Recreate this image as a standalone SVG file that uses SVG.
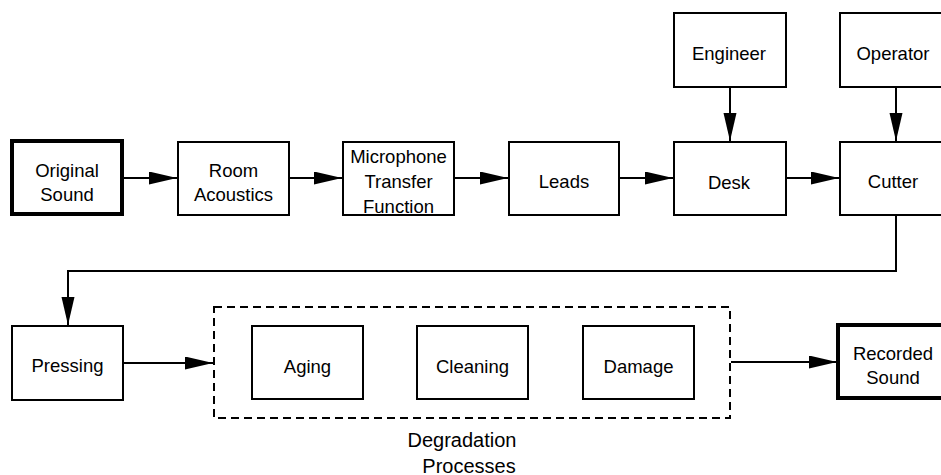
<svg xmlns="http://www.w3.org/2000/svg" width="941" height="475" viewBox="0 0 941 475">
<style>
.box{fill:#fff;stroke:#000;stroke-width:2}
.thick{fill:#fff;stroke:#000;stroke-width:4}
.dash{fill:none;stroke:#000;stroke-width:2;stroke-dasharray:8 5}
.t{font-family:"Liberation Sans",Arial,sans-serif;font-size:18.5px;text-anchor:middle;fill:#000}
.lbl{font-family:"Liberation Sans",Arial,sans-serif;font-size:20px;text-anchor:middle;fill:#000}
.c{fill:none;stroke:#000;stroke-width:2;marker-end:url(#ah)}
</style>
<defs>
<marker id="ah" markerUnits="userSpaceOnUse" markerWidth="28" markerHeight="14" refX="28" refY="6.5" orient="auto">
<path d="M0,0 L28,6.5 L0,13 z" fill="#000"/>
</marker>
</defs>
<rect width="941" height="475" fill="#fff"/>
<g id="connectors">
<path class="c" d="M123,178 H177"/>
<path class="c" d="M289,178 H342"/>
<path class="c" d="M454,178 H508"/>
<path class="c" d="M619,178 H673"/>
<path class="c" d="M786,178 H839"/>
<path class="c" d="M730,87 V141"/>
<path class="c" d="M896,87 V141"/>
<path class="c" d="M896,215 V271 H68 V325"/>
<path class="c" d="M123,363 H213"/>
<path class="c" d="M731,362 H837"/>
</g>
<g id="original-sound"><rect class="thick" x="12" y="141" width="110" height="73"/><text class="t" x="67" y="176.5">Original</text><text class="t" x="67" y="200.5">Sound</text></g>
<g id="room-acoustics"><rect class="box" x="178" y="142" width="111" height="73"/><text class="t" x="233.5" y="176.5">Room</text><text class="t" x="233.5" y="200.5">Acoustics</text></g>
<g id="microphone"><rect class="box" x="343" y="142" width="111" height="73"/><text class="t" x="398.5" y="163">Microphone</text><text class="t" x="398.5" y="188">Transfer</text><text class="t" x="398.5" y="212.5">Function</text></g>
<g id="leads"><rect class="box" x="509" y="142" width="110" height="73"/><text class="t" x="564" y="188">Leads</text></g>
<g id="desk"><rect class="box" x="674" y="142" width="112" height="73"/><text class="t" x="729" y="188.5">Desk</text></g>
<g id="cutter"><rect class="box" x="840" y="142" width="110" height="73"/><text class="t" x="893" y="188">Cutter</text></g>
<g id="engineer"><rect class="box" x="674" y="13" width="112" height="74"/><text class="t" x="729" y="60">Engineer</text></g>
<g id="operator"><rect class="box" x="840" y="13" width="110" height="74"/><text class="t" x="893" y="60">Operator</text></g>
<g id="pressing"><rect class="box" x="12" y="326" width="111" height="74"/><text class="t" x="67.5" y="372">Pressing</text></g>
<g id="degradation"><rect class="dash" x="214" y="307" width="516" height="111"/><text class="lbl" x="462" y="447">Degradation</text><text class="lbl" x="469" y="472.5">Processes</text></g>
<g id="aging"><rect class="box" x="252" y="326" width="111" height="73"/><text class="t" x="307.5" y="372.5">Aging</text></g>
<g id="cleaning"><rect class="box" x="417" y="326" width="111" height="73"/><text class="t" x="472.5" y="372.5">Cleaning</text></g>
<g id="damage"><rect class="box" x="583" y="326" width="111" height="73"/><text class="t" x="638.5" y="372.5">Damage</text></g>
<g id="recorded-sound"><rect class="thick" x="838" y="325" width="110" height="73"/><text class="t" x="893" y="360">Recorded</text><text class="t" x="893" y="383.5">Sound</text></g>
</svg>
